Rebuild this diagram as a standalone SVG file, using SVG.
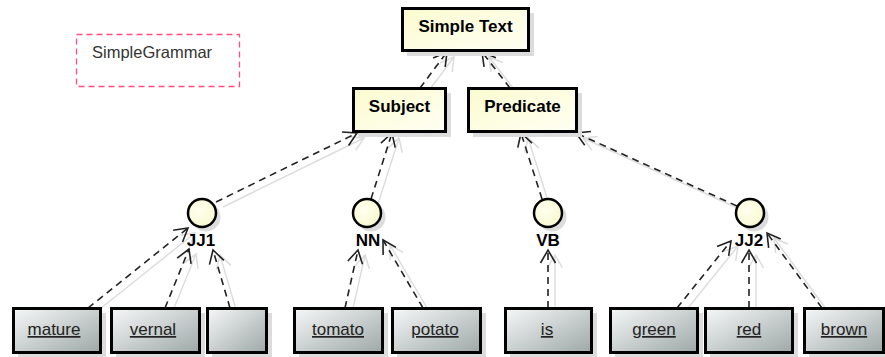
<svg xmlns="http://www.w3.org/2000/svg" width="885" height="357" viewBox="0 0 885 357">
<defs>
<linearGradient id="gy" x1="0" y1="0" x2="1" y2="1">
<stop offset="0" stop-color="#fbfbcf"/>
<stop offset="1" stop-color="#fffff4"/>
</linearGradient>
<linearGradient id="gg" x1="0" y1="0" x2="1" y2="1">
<stop offset="0" stop-color="#f6f8f8"/>
<stop offset="1" stop-color="#9ea7a7"/>
</linearGradient>
<radialGradient id="gc" cx="0.4" cy="0.4" r="0.7">
<stop offset="0" stop-color="#fffff0"/>
<stop offset="1" stop-color="#f8f8cc"/>
</radialGradient>
<marker id="ar" markerUnits="userSpaceOnUse" markerWidth="20" markerHeight="20" viewBox="-16 -10 20 20" refX="0" refY="0" orient="auto">
<path d="M-13,-7.5 L0,0 L-13,7.5" fill="none" stroke="#222" stroke-width="1.6"/>
</marker>
<marker id="as" markerUnits="userSpaceOnUse" markerWidth="20" markerHeight="20" viewBox="-16 -10 20 20" refX="0" refY="0" orient="auto">
<path d="M-13,-7.5 L0,0 L-13,7.5" fill="none" stroke="#dcdcdc" stroke-width="1.5"/>
</marker>
</defs>
<style>
.sh{fill:#dcdcdc}
.cls{fill:url(#gy);stroke:#000;stroke-width:3}
.inst{fill:url(#gg);stroke:#000;stroke-width:3}
.circ{fill:url(#gc);stroke:#000;stroke-width:2.5}
.bt{font-family:"Liberation Sans",Arial,sans-serif;font-weight:bold;font-size:17px;fill:#000;text-anchor:middle}
.it{font-family:"Liberation Sans",Arial,sans-serif;font-size:17px;fill:#222;text-anchor:middle;text-decoration:underline}
.dep{fill:none;stroke:#222;stroke-width:1.6;stroke-dasharray:7 5;marker-end:url(#ar)}
.dsh{fill:none;stroke:#dcdcdc;stroke-width:1.4;marker-end:url(#as)}
</style>
<rect width="885" height="357" fill="#fff"/>

<g id="note">
<rect x="76.5" y="34.5" width="163" height="52" fill="none" stroke="#ff4d7d" stroke-width="1.3" stroke-dasharray="6 4"/>
<text x="92" y="58" font-family="Liberation Sans, Arial, sans-serif" font-size="16.5" fill="#333">SimpleGrammar</text>
</g>

<g id="connectors">
<g transform="translate(7,5)">
<path class="dsh" d="M420,88 L447,52"/>
<path class="dsh" d="M510,88 L482,52"/>
<path class="dsh" d="M216,202 L357,133"/>
<path class="dsh" d="M371,199 L392,133"/>
<path class="dsh" d="M542,199 L521,133"/>
<path class="dsh" d="M737,206 L576,133"/>
<path class="dsh" d="M88,308 L188,228"/>
<path class="dsh" d="M165,308 L189,249"/>
<path class="dsh" d="M230,308 L213,250"/>
<path class="dsh" d="M345,308 L358,250"/>
<path class="dsh" d="M423,308 L383,240"/>
<path class="dsh" d="M548,308 L548,250"/>
<path class="dsh" d="M677,308 L731,241"/>
<path class="dsh" d="M749,308 L749,250"/>
<path class="dsh" d="M822,308 L767,233"/>
</g>
<path class="dep" d="M420,88 L447,52"/>
<path class="dep" d="M510,88 L482,52"/>
<path class="dep" d="M216,202 L357,133"/>
<path class="dep" d="M371,199 L392,133"/>
<path class="dep" d="M542,199 L521,133"/>
<path class="dep" d="M737,206 L576,133"/>
<path class="dep" d="M88,308 L188,228"/>
<path class="dep" d="M165,308 L189,249"/>
<path class="dep" d="M230,308 L213,250"/>
<path class="dep" d="M345,308 L358,250"/>
<path class="dep" d="M423,308 L383,240"/>
<path class="dep" d="M548,308 L548,250"/>
<path class="dep" d="M677,308 L731,241"/>
<path class="dep" d="M749,308 L749,250"/>
<path class="dep" d="M822,308 L767,233"/>
</g>

<g id="SimpleText">
<rect class="sh" x="407" y="13" width="127" height="43"/>
<rect class="cls" x="402.5" y="8.5" width="126" height="42"/>
<text class="bt" x="465.5" y="32">Simple Text</text>
</g>
<g id="Subject">
<rect class="sh" x="358" y="93" width="93" height="44"/>
<rect class="cls" x="353.5" y="88.5" width="92" height="43"/>
<text class="bt" x="399.5" y="112">Subject</text>
</g>
<g id="Predicate">
<rect class="sh" x="473" y="93" width="109" height="44"/>
<rect class="cls" x="468.5" y="88.5" width="108" height="43"/>
<text class="bt" x="522.5" y="112">Predicate</text>
</g>

<g id="JJ1">
<circle class="sh" cx="206" cy="217" r="14.5"/>
<circle class="circ" cx="202" cy="213" r="14"/>
<text class="bt" x="201" y="246">JJ1</text>
</g>
<g id="NN">
<circle class="sh" cx="371" cy="217" r="14.5"/>
<circle class="circ" cx="367" cy="213" r="14"/>
<text class="bt" x="368" y="246">NN</text>
</g>
<g id="VB">
<circle class="sh" cx="552" cy="217" r="14.5"/>
<circle class="circ" cx="548" cy="213" r="14"/>
<text class="bt" x="548" y="246">VB</text>
</g>
<g id="JJ2">
<circle class="sh" cx="754" cy="217" r="14.5"/>
<circle class="circ" cx="750" cy="213" r="14"/>
<text class="bt" x="749" y="246">JJ2</text>
</g>

<g id="mature">
<rect class="sh" x="18" y="313" width="88" height="45"/>
<rect class="inst" x="13.5" y="308.5" width="87" height="44"/>
<text class="it" x="54" y="335">mature</text>
</g>
<g id="vernal">
<rect class="sh" x="116" y="313" width="89" height="45"/>
<rect class="inst" x="111.5" y="308.5" width="88" height="44"/>
<text class="it" x="153" y="335">vernal</text>
</g>
<g id="blank">
<rect class="sh" x="212" y="313" width="60" height="45"/>
<rect class="inst" x="207.5" y="308.5" width="59" height="44"/>
</g>
<g id="tomato">
<rect class="sh" x="299" y="313" width="89" height="45"/>
<rect class="inst" x="294.5" y="308.5" width="88" height="44"/>
<text class="it" x="338" y="335">tomato</text>
</g>
<g id="potato">
<rect class="sh" x="397" y="313" width="89" height="45"/>
<rect class="inst" x="392.5" y="308.5" width="88" height="44"/>
<text class="it" x="435" y="335">potato</text>
</g>
<g id="is">
<rect class="sh" x="510" y="313" width="87" height="45"/>
<rect class="inst" x="505.5" y="308.5" width="86" height="44"/>
<text class="it" x="547" y="335">is</text>
</g>
<g id="green">
<rect class="sh" x="615" y="313" width="88" height="45"/>
<rect class="inst" x="610.5" y="308.5" width="87" height="44"/>
<text class="it" x="654" y="335">green</text>
</g>
<g id="red">
<rect class="sh" x="710" y="313" width="88" height="45"/>
<rect class="inst" x="705.5" y="308.5" width="87" height="44"/>
<text class="it" x="749" y="335">red</text>
</g>
<g id="brown">
<rect class="sh" x="809" y="313" width="80" height="45"/>
<rect class="inst" x="804.5" y="308.5" width="79" height="44"/>
<text class="it" x="844" y="335">brown</text>
</g>
</svg>
